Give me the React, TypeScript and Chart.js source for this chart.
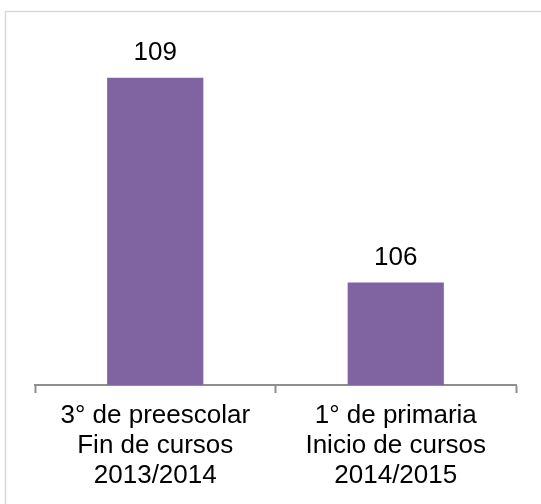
import React, { useEffect, useRef } from "react";
import { Chart, registerables } from "chart.js";

Chart.register(...registerables);

const categories: string[][] = [
  ["3° de preescolar", "Fin de cursos", "2013/2014"],
  ["1° de primaria", "Inicio de cursos", "2014/2015"],
];
const values: number[] = [109, 106];
const yMin = 104.5;
const yMax = 110;

const FONT = "'Liberation Sans', Arial, sans-serif";

const valueLabels = {
  id: "valueLabels",
  afterDatasetsDraw(chart: any) {
    const ctx = chart.ctx;
    const meta = chart.getDatasetMeta(0);
    ctx.save();
    ctx.font = `26px ${FONT}`;
    ctx.fillStyle = "#000000";
    ctx.textAlign = "center";
    ctx.textBaseline = "alphabetic";
    meta.data.forEach((bar: any, i: number) => {
      ctx.fillText(String(values[i]), bar.x, bar.y - 18);
    });
    ctx.restore();
  },
};

const frame = {
  id: "frame",
  beforeDraw(chart: any) {
    const ctx = chart.ctx;
    ctx.save();
    ctx.fillStyle = "#ffffff";
    ctx.fillRect(0, 0, chart.width, chart.height);
    ctx.strokeStyle = "#d9d9d9";
    ctx.lineWidth = 1.5;
    ctx.strokeRect(5.5, 11.5, chart.width + 20, chart.height + 20);
    ctx.restore();
  },
};

export default function App() {
  const ref = useRef<HTMLCanvasElement | null>(null);
  useEffect(() => {
    if (!ref.current) return;
    const chart = new Chart(ref.current, {
      type: "bar",
      data: {
        labels: categories,
        datasets: [
          {
            data: values,
            backgroundColor: "#8064A2",
            borderWidth: 0,
            barPercentage: 0.4,
            categoryPercentage: 1,
          },
        ],
      },
      options: {
        animation: false,
        responsive: true,
        maintainAspectRatio: false,
        layout: { padding: { left: 35, right: 25, top: 9.35, bottom: 0 } },
        plugins: { legend: { display: false }, tooltip: { enabled: false } },
        scales: {
          x: {
            offset: true,
            border: { display: true, color: "#8e8e8e", width: 2 },
            grid: {
              display: true,
              offset: true,
              drawOnChartArea: false,
              drawTicks: true,
              tickLength: 8,
              tickWidth: 2,
              color: "#8e8e8e",
            },
            ticks: {
              color: "#000000",
              padding: 8,
              maxRotation: 0,
              autoSkip: false,
              font: { family: FONT, size: 26, lineHeight: "30px" },
            },
            afterFit: (scale: any) => {
              scale.height = 119;
            },
          },
          y: {
            display: false,
            min: yMin,
            max: yMax,
          },
        },
      },
      plugins: [frame, valueLabels],
    });
    return () => chart.destroy();
  }, []);
  return (
    <div style={{ position: "absolute", left: 0, top: 0, width: 541, height: 504 }}>
      <canvas ref={ref} />
    </div>
  );
}
